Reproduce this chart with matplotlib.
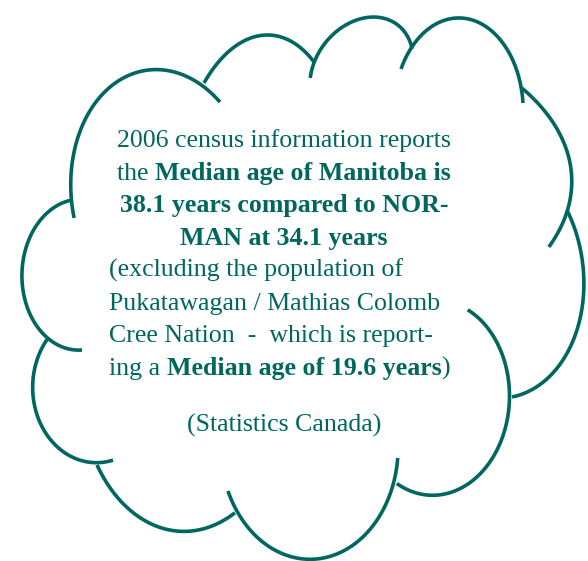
import numpy as np
import matplotlib
matplotlib.use('Agg')
import matplotlib.pyplot as plt

W, H = 588, 561
COLOR = '#00675F'
FAM = ['Liberation Serif', 'DejaVu Serif']
FS = 18.6

# cloud lobes: points read along each arc of the outline
L1 = [(74,218),(71,180),(77,140),(97,100),(127,77),(160,69),(193,80),(220,102)]
L2 = [(204,83),(227,53),(267,35),(294,43),(314,62)]
L3 = [(310,78),(321,50),(344,25),(374,18),(401,27),(412,49)]
L4 = [(401,69),(417,40),(457,18),(494,33),(514,63),(523,103)]
L5 = [(522,88),(551,120),(572,173),(567,210),(549,247)]
L6 = [(567,210),(584,280),(583,290),(580,323),(560,363),(537,387),(512,397)]
L7 = [(468,309),(490,333),(509,400),(507,430),(480,470),(435,497),(413,492),(397,483)]
L8 = [(398,458),(393,483),(370,530),(310,559),(260,540),(238,513),(228,491)]
L9 = [(235,513),(213,525),(183,532),(150,523),(117,497),(97,465)]
L10 = [(113,460),(90,463),(67,453),(43,430),(33,390),(35,367),(48,338)]
L11 = [(82,350),(50,340),(33,320),(22,280),(47,213),(72,200)]
LOBES = [L1, L2, L3, L4, L5, L6, L7, L8, L9, L10, L11]

LINES = [
    [("2006 census information reports", False)],
    [("the ", False), ("Median age of Manitoba is", True)],
    [("38.1 years compared to NOR-", True)],
    [("MAN at 34.1 years", True)],
    [("(excluding the population of", False)],
    [("Pukatawagan / Mathias Colomb", False)],
    [("Cree Nation  -  which is report-", False)],
    [("ing a ", False), ("Median age of 19.6 years", True), (")", False)],
    [("(Statistics Canada)", False)],
]
ALIGN = ['center', 'center', 'center', 'center', 'left', 'left', 'left', 'left', 'center']
BASELINES = [147, 179.5, 212, 244.5, 277, 309.5, 342, 374.5, 431.5]
CENTER_X, LEFT_X = 284, 109

fig = plt.figure(figsize=(W/100, H/100), dpi=100)
ax = fig.add_axes([0, 0, 1, 1])
ax.set_xlim(0, W); ax.set_ylim(H, 0); ax.axis('off')


def fit(pts):
    p = np.array(pts, float)
    m = p.mean(0); s = p.std()
    q = (p - m) / s
    x, y = q[:, 0], q[:, 1]
    D1 = np.vstack([x**2, x*y, y**2]).T
    D2 = np.vstack([x, y, np.ones_like(x)]).T
    S1 = D1.T @ D1; S2 = D1.T @ D2; S3 = D2.T @ D2
    T = -np.linalg.solve(S3, S2.T)
    M = S1 + S2 @ T
    M = np.array([M[2]/2, -M[1], M[0]/2])
    w, v = np.linalg.eig(M)
    v = np.real(v)
    con = 4*v[0]*v[2] - v[1]**2
    a1 = v[:, np.nonzero(con > 0)[0][0]]
    a, b, c = a1
    d, e, f = T @ a1
    A = np.array([[a, b/2], [b/2, c]])
    ctr = np.linalg.solve(A, -np.array([d, e])/2)
    fc = f + 0.5*(d*ctr[0] + e*ctr[1])
    lam, vec = np.linalg.eigh(A)
    r = np.sqrt(-fc/lam)
    u1 = vec[:, 0]
    phi = np.arctan2(u1[1], u1[0])
    return ctr*s + m, r*s, phi


for pts in LOBES:
    cen, r, phi = fit(pts)
    u1 = np.array([np.cos(phi), np.sin(phi)]); u2 = np.array([-np.sin(phi), np.cos(phi)])
    p = np.array(pts, float) - cen
    t = np.unwrap(np.arctan2((p @ u2)/r[1], (p @ u1)/r[0]))
    tt = np.linspace(t[0], t[-1], 300)
    xy = cen + np.outer(r[0]*np.cos(tt), u1) + np.outer(r[1]*np.sin(tt), u2)
    ax.plot(xy[:, 0], xy[:, 1], color=COLOR, lw=2.6, solid_capstyle='butt')

fig.canvas.draw()
rend = fig.canvas.get_renderer()


def width(s, bold):
    t = ax.text(0, 0, s, fontsize=FS, fontweight='bold' if bold else 'normal', family=FAM)
    w = t.get_window_extent(rend).width
    t.remove()
    return w


def advance(s, bold):
    return width(s + '|', bold) - width('|', bold)


for pieces, al, yb in zip(LINES, ALIGN, BASELINES):
    advs = [advance(s, b) for s, b in pieces]
    total = sum(advs[:-1]) + width(pieces[-1][0], pieces[-1][1])
    x = CENTER_X - total/2 if al == 'center' else LEFT_X
    for (s, b), a in zip(pieces, advs):
        ax.text(x, yb, s, fontsize=FS, fontweight='bold' if b else 'normal', family=FAM,
                color=COLOR, ha='left', va='baseline')
        x += a

fig.savefig('out.png', dpi=100)
